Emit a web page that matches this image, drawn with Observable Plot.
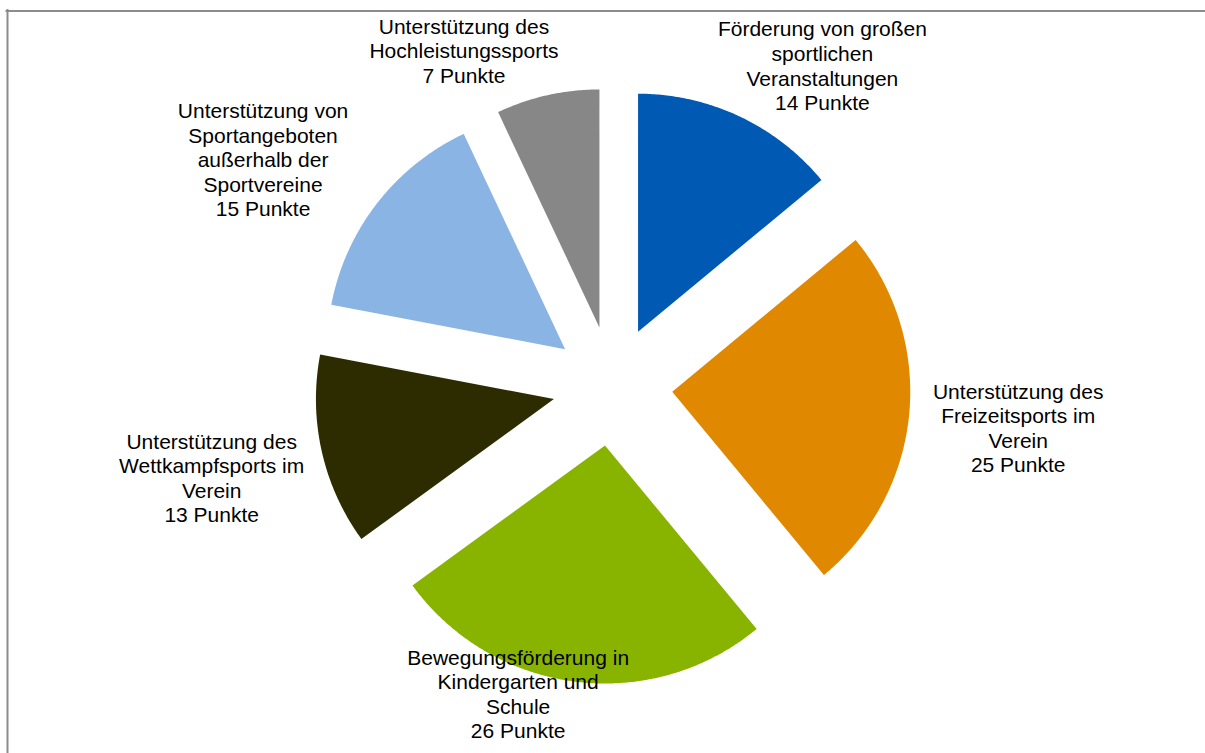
<!DOCTYPE html>
<html>
<head>
<meta charset="utf-8">
<script src="https://cdn.jsdelivr.net/npm/d3@7"></script>
<script src="https://cdn.jsdelivr.net/npm/@observablehq/plot@0.6"></script>
<style>
  html, body { margin: 0; padding: 0; background: #ffffff; overflow: hidden; }
  #chart svg { display: block; }
</style>
</head>
<body>
<div id="chart"></div>
<script>
// ---- data ----
const categories = [
  "Förderung von großen\nsportlichen\nVeranstaltungen",
  "Unterstützung des\nFreizeitsports im\nVerein",
  "Bewegungsförderung in\nKindergarten und\nSchule",
  "Unterstützung des\nWettkampfsports im\nVerein",
  "Unterstützung von\nSportangeboten\naußerhalb der\nSportvereine",
  "Unterstützung des\nHochleistungssports"
];
const points = [14, 25, 26, 13, 15, 7];
const unit = "Punkte";

// ---- styles / layout ----
const colors = ["#0059B3", "#E08800", "#88B400", "#2D2C00", "#8AB4E3", "#878787"];
const W = 1205, H = 753;
const cxPx = 612, cyPx = 385.5, radiusPx = 238, explodePx = 60;
// label nudges (pixels) relative to the outer arc midpoint of each exploded slice
const labelNudge = [[83, -51], [109, 13.5], [-57, 12], [-110, 26.5], [-114, -44], [-83.5, -44.6]];

const rows = categories.map((name, i) => ({name, value: points[i]}));
const arcs = d3.pie().sort(null).value(d => d.value)(rows);
const e = explodePx / radiusPx;

const slicePts = [];
const labelRows = [];
arcs.forEach((a, i) => {
  const mid = (a.startAngle + a.endAngle) / 2;
  const ox = e * Math.sin(mid), oy = e * Math.cos(mid);
  const name = a.data.name;
  slicePts.push({name, x: ox, y: oy});
  const n = Math.max(8, Math.ceil((a.endAngle - a.startAngle) / (Math.PI / 360)));
  for (let k = 0; k <= n; k++) {
    const t = a.startAngle + (a.endAngle - a.startAngle) * k / n;
    slicePts.push({name, x: ox + Math.sin(t), y: oy + Math.cos(t)});
  }
  slicePts.push({name, x: ox, y: oy});
  const rr = 1 + e;
  labelRows.push({
    name,
    x: rr * Math.sin(mid) + labelNudge[i][0] / radiusPx,
    y: rr * Math.cos(mid) - labelNudge[i][1] / radiusPx,
    text: `${name}\n${a.data.value} ${unit}`
  });
});

const chart = Plot.plot({
  width: W,
  height: H,
  margin: 0,
  style: {background: "#ffffff", fontFamily: "'Liberation Sans', Arial, sans-serif", overflow: "hidden"},
  x: {domain: [-cxPx / radiusPx, (W - cxPx) / radiusPx], axis: null},
  y: {domain: [-(H - cyPx) / radiusPx, cyPx / radiusPx], axis: null},
  color: {domain: categories, range: colors},
  marks: [
    Plot.frame({anchor: "top", stroke: "#8c8c8c", strokeWidth: 2, insetLeft: 6, insetRight: -10, insetTop: 10.5}),
    Plot.frame({anchor: "left", stroke: "#8c8c8c", strokeWidth: 2, insetLeft: 7, insetTop: 9.5, insetBottom: -10}),
    Plot.line(slicePts, {x: "x", y: "y", z: "name", fill: "name", stroke: "none", curve: "linear"}),
    Plot.text(labelRows, {
      x: "x", y: "y", text: "text",
      fontSize: 21, lineHeight: 1.17, textAnchor: "middle",
      fill: "#000000"
    })
  ]
});
document.getElementById("chart").appendChild(chart);
</script>
</body>
</html>
